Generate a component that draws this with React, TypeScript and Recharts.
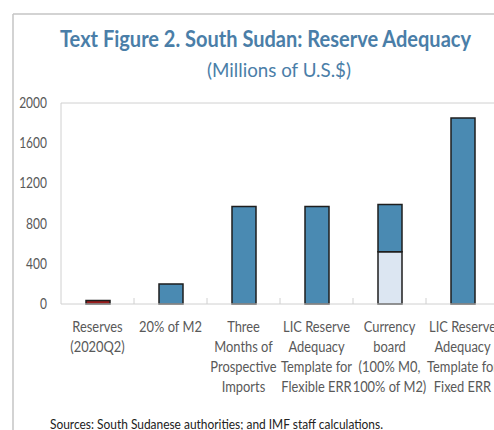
import React from "react";
import { BarChart, Bar, XAxis, YAxis, Cell, ReferenceLine } from "recharts";

const categories: string[] = [
  "Reserves\n(2020Q2)",
  "20% of M2",
  "Three\nMonths of\nProspective\nImports",
  "LIC Reserve\nAdequacy\nTemplate for\nFlexible ERR",
  "Currency\nboard\n(100% M0,\n100% of M2)",
  "LIC Reserve\nAdequacy\nTemplate for\nFixed ERR",
];
const baseValues: number[] = [35, 200, 970, 970, 520, 1850];
const topValues: (number | null)[] = [null, null, null, null, 470, null];
const yTicks: number[] = [0, 400, 800, 1200, 1600, 2000];

const title = "Text Figure 2. South Sudan: Reserve Adequacy";
const subtitle = "(Millions of U.S.$)";
const source = "Sources: South Sudanese authorities; and IMF staff calculations.";

const BLUE = "#4a8ab2";
const RED = "#9a1c1c";
const LIGHT = "#dce6f2";
const baseColors = [RED, BLUE, BLUE, BLUE, LIGHT, BLUE];
const FONT = "Lato, sans-serif";
const TXT = "#595959";
const XSCALE = 0.86;
const YSCALE = 0.8;

const data = categories.map((c, i) => ({
  name: c,
  base: baseValues[i],
  top: topValues[i],
}));

const XTick = (props: any) => {
  const { x, y, payload } = props;
  const lines = String(payload.value).split("\n");
  const off = payload.offset ?? 0;
  return (
    <g>
      <line x1={x + off} x2={x + off} y1={y} y2={y - 6} stroke="#d0d0d0" strokeWidth={1} />
      <text
        x={x}
        y={y + 28}
        textAnchor="middle"
        fill={TXT}
        fontSize={15}
        fontFamily={FONT}
        transform={`matrix(${XSCALE} 0 0 1 ${x * (1 - XSCALE)} 0)`}
      >
        {lines.map((l, i) => (
          <tspan key={i} x={x} dy={i === 0 ? 0 : 20}>
            {l}
          </tspan>
        ))}
      </text>
    </g>
  );
};

const YTick = (props: any) => {
  const { x, y, payload } = props;
  return (
    <text
      x={x}
      y={y}
      dy={5}
      textAnchor="end"
      fill={TXT}
      fontSize={15}
      fontFamily={FONT}
      transform={`matrix(${YSCALE} 0 0 1 ${x * (1 - YSCALE)} 0)`}
    >
      {payload.value}
    </text>
  );
};

export default function App() {
  return (
    <div style={{ position: "relative", width: 494, height: 430, overflow: "hidden", background: "#fff" }}>
      <style>{"body{margin:0}"}</style>
      <div style={{ position: "absolute", left: 0, top: 0 }}>
        <BarChart
          width={510}
          height={430}
          data={data}
          margin={{ top: 103, right: 11, left: 0, bottom: 26 }}
          barSize={24}
        >
          <XAxis
            dataKey="name"
            interval={0}
            height={100}
            tickSize={0}
            tickMargin={0}
            tickLine={false}
            axisLine={{ stroke: "#d0d0d0", strokeWidth: 1 }}
            tick={<XTick />}
          />
          <YAxis
            width={61}
            domain={[0, 2000]}
            ticks={yTicks}
            tickSize={0}
            tickMargin={14}
            tickLine={false}
            axisLine={{ stroke: "#d0d0d0", strokeWidth: 1 }}
            tick={<YTick />}
          />
          <ReferenceLine y={2000} stroke="#d0d0d0" strokeWidth={1} />
          <Bar dataKey="base" stackId="a" stroke="#1e1e1e" strokeWidth={1.5} isAnimationActive={false}>
            {data.map((_, i) => (
              <Cell key={i} fill={baseColors[i]} />
            ))}
          </Bar>
          <Bar dataKey="top" stackId="a" fill={BLUE} stroke="#1e1e1e" strokeWidth={1.5} isAnimationActive={false} />
        </BarChart>
      </div>
      <svg width={494} height={430} style={{ position: "absolute", left: 0, top: 0, pointerEvents: "none" }}>
        <line x1={13} x2={494} y1={14} y2={14} stroke="#c4c4c4" strokeWidth={1.5} />
        <line x1={13} x2={13} y1={14} y2={430} stroke="#c4c4c4" strokeWidth={1.5} />
        <text
          x={60}
          y={47}
          fontSize={22}
          fontWeight="bold"
          fill="#4a7ea8"
          fontFamily={FONT}
          textLength={411}
          lengthAdjust="spacingAndGlyphs"
        >
          {title}
        </text>
        <text
          x={207}
          y={77}
          fontSize={20}
          fill="#4a7ea8"
          fontFamily={FONT}
          textLength={144}
          lengthAdjust="spacingAndGlyphs"
        >
          {subtitle}
        </text>
        <text
          x={50}
          y={429}
          fontSize={14}
          fill="#222"
          fontFamily={FONT}
          textLength={333}
          lengthAdjust="spacingAndGlyphs"
        >
          {source}
        </text>
      </svg>
    </div>
  );
}
